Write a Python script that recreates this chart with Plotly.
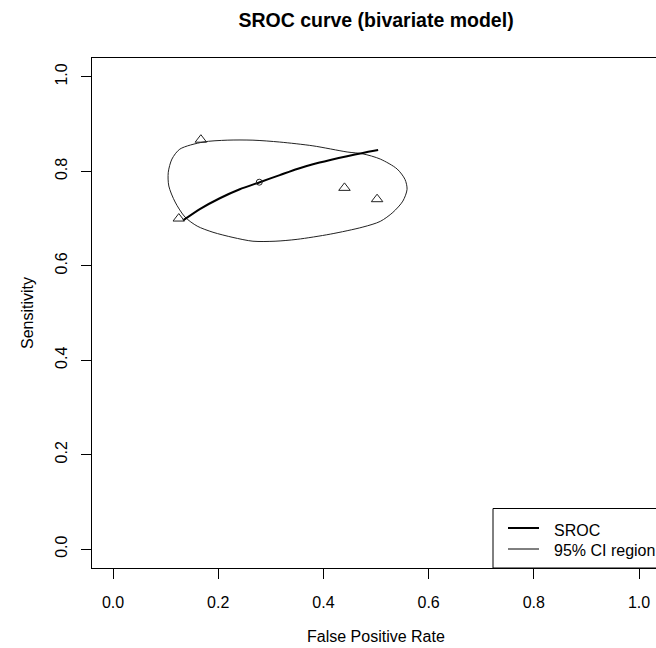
import plotly.graph_objects as go

# ---- data ----
study_fpr = [0.167, 0.125, 0.440, 0.502]
study_sens = [0.867, 0.700, 0.765, 0.741]

summary_fpr = [0.278]
summary_sens = [0.777]

sroc_fpr = [0.133, 0.165, 0.203, 0.241, 0.279, 0.317, 0.350, 0.380, 0.413, 0.445, 0.475, 0.504]
sroc_sens = [0.696, 0.720, 0.743, 0.762, 0.777, 0.792, 0.805, 0.815, 0.824, 0.832, 0.839, 0.845]

ell_fpr = [0.559, 0.555, 0.540, 0.508, 0.475, 0.445, 0.380, 0.317, 0.266, 0.217, 0.171, 0.127,
           0.112, 0.105, 0.106, 0.118, 0.137, 0.160, 0.190, 0.228, 0.266, 0.308, 0.350, 0.413,
           0.475, 0.508, 0.532, 0.551, 0.559]
ell_sens = [0.762, 0.783, 0.805, 0.826, 0.837, 0.841, 0.854, 0.862, 0.866, 0.866, 0.862, 0.847,
            0.826, 0.798, 0.769, 0.735, 0.703, 0.684, 0.671, 0.660, 0.652, 0.652, 0.656, 0.667,
            0.682, 0.694, 0.713, 0.737, 0.762]

tick_vals = [0.0, 0.2, 0.4, 0.6, 0.8, 1.0]
tick_text = ["0.0", "0.2", "0.4", "0.6", "0.8", "1.0"]

legend_labels = ["SROC", "95% CI region"]

FONT = "Liberation Sans, Arial, sans-serif"
W, H = 656, 648
L, R, T, B = 92, 0, 58, 80

fig = go.Figure()
fig.add_trace(go.Scatter(x=ell_fpr, y=ell_sens, mode="lines",
                         line=dict(color="#222222", width=1, shape="spline", smoothing=0.8),
                         name=legend_labels[1], showlegend=False, hoverinfo="skip"))
fig.add_trace(go.Scatter(x=sroc_fpr, y=sroc_sens, mode="lines",
                         line=dict(color="black", width=2, shape="spline", smoothing=0.6),
                         name=legend_labels[0], showlegend=False))
fig.add_trace(go.Scatter(x=study_fpr, y=study_sens, mode="markers",
                         marker=dict(symbol="triangle-up-open", size=10,
                                     color="#222222", line=dict(width=1)),
                         showlegend=False))
fig.add_trace(go.Scatter(x=summary_fpr, y=summary_sens, mode="markers",
                         marker=dict(symbol="circle-open", size=6,
                                     color="#222222", line=dict(width=1)),
                         showlegend=False))

pw = W - L - R
ph = H - T - B


def px_x(p):
    return (p - L) / pw


def px_y(p):
    return (H - B - p) / ph


# manual legend box (cut off at the right edge, as in the reference)
fig.add_shape(type="rect", xref="paper", yref="paper",
              x0=px_x(493), x1=px_x(700), y0=px_y(568), y1=px_y(508.5),
              line=dict(color="black", width=1), fillcolor="white", layer="above")
fig.add_shape(type="line", xref="paper", yref="paper",
              x0=px_x(508), x1=px_x(539), y0=px_y(528), y1=px_y(528),
              line=dict(color="black", width=2), layer="above")
fig.add_shape(type="line", xref="paper", yref="paper",
              x0=px_x(508), x1=px_x(539), y0=px_y(549), y1=px_y(549),
              line=dict(color="black", width=1), layer="above")
for lab, yy in zip(legend_labels, [530, 550]):
    fig.add_annotation(text=lab, xref="paper", yref="paper", x=px_x(552), y=px_y(yy),
                       xanchor="left", yanchor="middle", showarrow=False,
                       font=dict(family=FONT, size=16, color="black"))

# axis titles
fig.add_annotation(text="False Positive Rate", xref="paper", yref="paper",
                   x=px_x(376), y=px_y(636), xanchor="center", yanchor="middle",
                   showarrow=False, font=dict(family=FONT, size=16, color="black"))
fig.add_annotation(text="Sensitivity", xref="paper", yref="paper",
                   x=px_x(27), y=px_y(313), xanchor="center", yanchor="middle",
                   textangle=-90, showarrow=False,
                   font=dict(family=FONT, size=16, color="black"))

fig.update_layout(
    width=W, height=H,
    margin=dict(l=L, r=R, t=T, b=B, pad=0),
    paper_bgcolor="white", plot_bgcolor="white",
    font=dict(family=FONT, size=16, color="black"),
    title=dict(text="<b>SROC curve (bivariate model)</b>", x=px_x(376), xref="paper",
               xanchor="center", y=1 - 20 / H, yref="container", yanchor="middle",
               font=dict(family=FONT, size=19.5, color="black")),
    showlegend=False,
)
fig.update_xaxes(range=[-0.04, -0.04 + pw / 526.0], showline=True, mirror=True,
                 linecolor="black", linewidth=1, ticks="outside", ticklen=10,
                 tickcolor="black", tickwidth=1, tickvals=tick_vals, ticktext=tick_text,
                 showgrid=False, zeroline=False, ticklabelstandoff=10,
                 tickfont=dict(family=FONT, size=16, color="black"))
fig.update_yaxes(range=[-0.04, 1.04], showline=True, mirror=False,
                 linecolor="black", linewidth=1, ticks="outside", ticklen=10,
                 tickcolor="black", tickwidth=1, tickvals=tick_vals, ticktext=tick_text,
                 showgrid=False, zeroline=False, tickangle=-90, ticklabelstandoff=8,
                 tickfont=dict(family=FONT, size=16, color="black"))

fig.write_html("out.html")
